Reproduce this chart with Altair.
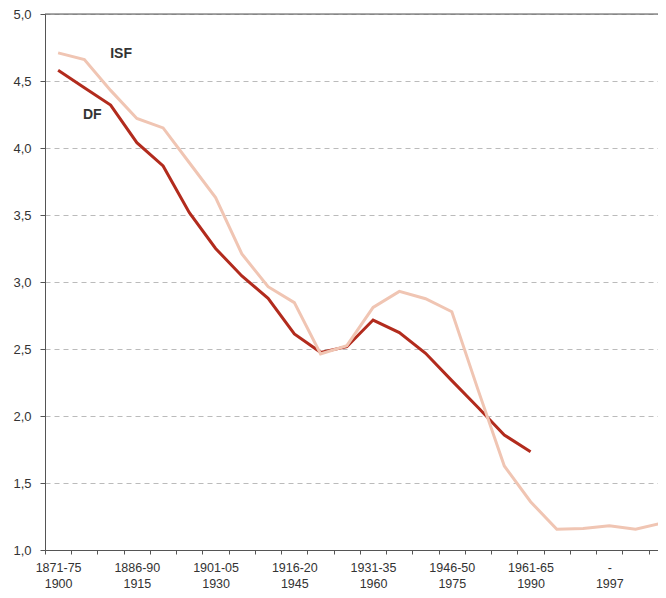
import json
import altair as alt
import pandas as pd

# x-axis tick labels (cohort / calendar year)
cohort_labels = ["1871-75", "1886-90", "1901-05", "1916-20", "1931-35", "1946-50", "1961-65", "-"]
year_labels = ["1900", "1915", "1930", "1945", "1960", "1975", "1990", "1997"]

# ISF series (24 points), DF series (19 points)
isf_values = [4.71, 4.66, 4.43, 4.22, 4.15, 3.89, 3.63, 3.21, 2.965, 2.846, 2.463, 2.525,
              2.81, 2.93, 2.875, 2.778, 2.195, 1.627, 1.36, 1.155, 1.16, 1.18, 1.155, 1.20]
df_values = [4.58, 4.45, 4.32, 4.04, 3.866, 3.517, 3.25, 3.045, 2.878, 2.612, 2.475, 2.517,
             2.716, 2.622, 2.468, 2.264, 2.063, 1.858, 1.733]

isf = pd.DataFrame({"i": list(range(len(isf_values))), "v": isf_values})
dfr = pd.DataFrame({"i": list(range(len(df_values))), "v": df_values})

FONT = "Liberation Sans"
lab = [[c, y] for c, y in zip(cohort_labels, year_labels)]
x_expr = f"{json.dumps(lab)}[round((datum.value + 0.5) / 3)]"

x_scale = alt.Scale(domain=[-0.5, 23.16], nice=False, zero=False)

# axis carrying only the tick marks at category boundaries
x_ticks = alt.X(
    "i:Q",
    scale=x_scale,
    axis=alt.Axis(
        orient="bottom",
        values=[k - 0.5 for k in range(24)],
        labels=False,
        tickSize=4,
        domainColor="#555555",
        tickColor="#555555",
        grid=False,
        title=None,
    ),
)
# axis carrying only the two-line labels, centred on every third category
x_labels = alt.X(
    "i:Q",
    scale=x_scale,
    axis=alt.Axis(
        orient="bottom",
        values=[3 * k - 0.5 for k in range(len(lab))],
        labelExpr=x_expr,
        labelOffset=13.1,
        labelFlush=False,
        labelOverlap=False,
        labelBound=False,
        ticks=False,
        tickSize=0,
        domain=False,
        labelPadding=11,
        labelBaseline="top",
        labelLineHeight=16,
        labelFontSize=12.5,
        labelFont=FONT,
        labelColor="#333333",
        grid=False,
        title=None,
    ),
)
y_enc = alt.Y(
    "v:Q",
    scale=alt.Scale(domain=[1, 5], nice=False, zero=False),
    axis=alt.Axis(
        values=[1.0, 1.5, 2.0, 2.5, 3.0, 3.5, 4.0, 4.5, 5.0],
        labelExpr="replace(format(datum.value, '.1f'), '.', ',')",
        grid=True,
        gridDash=[5, 4],
        gridColor="#BBBBBB",
        gridWidth=1,
        tickSize=5,
        tickColor="#555555",
        domainColor="#555555",
        labelFontSize=13,
        labelFont=FONT,
        labelColor="#333333",
        labelPadding=9,
        title=None,
    ),
)

df_line = alt.Chart(dfr).mark_line(color="#B22B1D", strokeWidth=3).encode(x=x_ticks, y=y_enc)
isf_line = alt.Chart(isf).mark_line(color="#F0C5B3", strokeWidth=3).encode(x=x_labels, y="v:Q")

top_rule = alt.Chart(pd.DataFrame({"v": [5.0]})).mark_rule(color="#555555", strokeWidth=1).encode(y="v:Q")

isf_text = alt.Chart(pd.DataFrame({"i": [2.4], "v": [4.70], "t": ["ISF"]})).mark_text(
    font=FONT, fontSize=14, fontWeight="bold", color="#333333"
).encode(x=alt.X("i:Q", axis=None), y="v:Q", text="t:N")
df_text = alt.Chart(pd.DataFrame({"i": [1.3], "v": [4.246], "t": ["DF"]})).mark_text(
    font=FONT, fontSize=14, fontWeight="bold", color="#333333"
).encode(x=alt.X("i:Q", axis=None), y="v:Q", text="t:N")

chart = alt.layer(df_line, isf_line, top_rule, isf_text, df_text).resolve_axis(
    x="independent"
).properties(
    width=621,
    height=536,
    autosize=alt.AutoSizeParams(type="none"),
    padding={"left": 37, "top": 6, "right": -8, "bottom": 40},
).configure_view(stroke=None).configure(background="white")

chart.save("out.html", embed_options={"renderer": "svg", "actions": False})
